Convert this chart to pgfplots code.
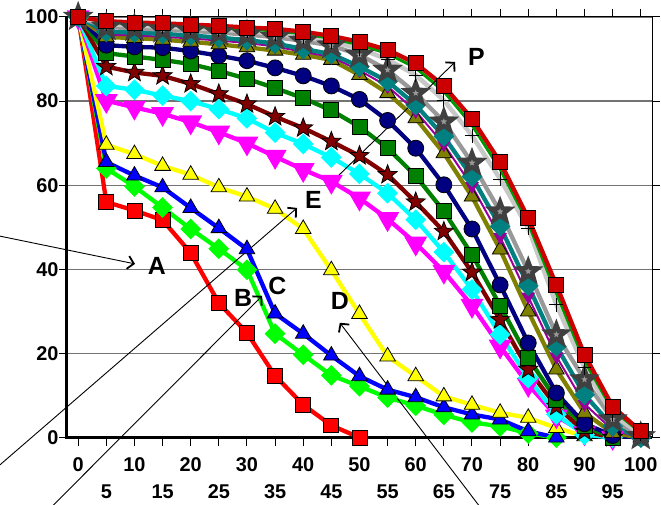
\documentclass[border=0pt]{standalone}
\usepackage{fontspec}
\setmainfont{Liberation Sans}
\usepackage{pgfplots}
\pgfplotsset{compat=1.18}
\usetikzlibrary{arrows.meta}
\definecolor{cRed}{HTML}{FF0000}
\definecolor{cLime}{HTML}{00FF00}
\definecolor{cBlue}{HTML}{0000FF}
\definecolor{cYellow}{HTML}{FFFF00}
\definecolor{cMag}{HTML}{FF00FF}
\definecolor{cCyan}{HTML}{00FFFF}
\definecolor{cDRed}{HTML}{800000}
\definecolor{cGreen}{HTML}{008000}
\definecolor{cNavy}{HTML}{000080}
\definecolor{cOlive}{HTML}{808000}
\definecolor{cPurple}{HTML}{990099}
\definecolor{cTeal}{HTML}{008080}
\definecolor{cGray}{HTML}{999999}
\definecolor{cLGray}{HTML}{C8C8C8}
\definecolor{cGreen2}{HTML}{009900}
\definecolor{cTop}{HTML}{CC0000}
\pgfdeclareplotmark{fstar}{%
  \pgfpathmoveto{\pgfqpoint{0pt}{\pgfplotmarksize}}%
  \pgfpathlineto{\pgfqpoint{-0.247\pgfplotmarksize}{0.340\pgfplotmarksize}}%
  \pgfpathlineto{\pgfqpoint{-0.951\pgfplotmarksize}{0.309\pgfplotmarksize}}%
  \pgfpathlineto{\pgfqpoint{-0.399\pgfplotmarksize}{-0.130\pgfplotmarksize}}%
  \pgfpathlineto{\pgfqpoint{-0.588\pgfplotmarksize}{-0.809\pgfplotmarksize}}%
  \pgfpathlineto{\pgfqpoint{0pt}{-0.420\pgfplotmarksize}}%
  \pgfpathlineto{\pgfqpoint{0.588\pgfplotmarksize}{-0.809\pgfplotmarksize}}%
  \pgfpathlineto{\pgfqpoint{0.399\pgfplotmarksize}{-0.130\pgfplotmarksize}}%
  \pgfpathlineto{\pgfqpoint{0.951\pgfplotmarksize}{0.309\pgfplotmarksize}}%
  \pgfpathlineto{\pgfqpoint{0.247\pgfplotmarksize}{0.340\pgfplotmarksize}}%
  \pgfpathclose
  \pgfusepathqfillstroke}
\pgfplotsset{
  ser/.style n args={3}{color=#1, line width=4.3bp, mark=#2, mark size=#3,
     mark options={solid, fill=#1, draw=black, line width=0.8bp}},
}
\begin{document}
\begin{tikzpicture}
\begin{axis}[
  at={(0,0)}, anchor=south west,
  scale only axis, width=585.6bp, height=421bp,
  xmin=-2, xmax=102, ymin=0, ymax=100,
  clip=false,
  axis line style={line width=1bp, black},
  xtick={0,10,...,100},
  extra x ticks={5,15,...,95},
  extra x tick style={xticklabel style={yshift=-28bp}},
  ytick={0,20,...,100},
  ymajorgrids,
  major grid style={line width=1.3bp, color=black!55},
  tick align=outside,
  major tick length=8bp,
  tick style={black, line width=1bp},
  tick label style={font=\fontsize{20}{20}\selectfont\bfseries},
  /pgf/number format/assume math mode=true,
  xticklabel style={yshift=-8bp},
  yticklabel style={xshift=3bp},
]
\coordinate (sw) at (rel axis cs:0,0);
\coordinate (ne) at (rel axis cs:1,1);
\draw[line width=3bp, black] (rel axis cs:0,1) -- (rel axis cs:0,0) -- (rel axis cs:1,0);

\addplot[ser={cRed}{square*}{7.5bp}] coordinates {(0,100)(5,56)(10,54)(15,51.7)(20,43.9)(25,32)(30,24.9)(35,14.7)(40,7.8)(45,2.9)(50,0)};
\addplot[ser={cLime}{square*}{5.2bp}, mark options={rotate=45}] coordinates {(0,100)(5,64)(10,59.7)(15,54.7)(20,49.6)(25,44.9)(30,39.9)(35,24.7)(40,19.7)(45,14.8)(50,12.2)(55,9.5)(60,7.6)(65,5.4)(70,3.6)(75,2.7)(80,1)(85,0)};
\addplot[ser={cBlue}{triangle*}{9bp}] coordinates {(0,100)(5,65.5)(10,62.3)(15,59.5)(20,54.6)(25,49.8)(30,44.8)(35,29.5)(40,24.7)(45,19.5)(50,14.6)(55,11.4)(60,9.6)(65,7.2)(70,5.5)(75,4.3)(80,1.5)(85,0)};
\addplot[ser={cYellow}{triangle*}{9bp}] coordinates {(0,100)(5,69.6)(10,67.4)(15,64.6)(20,62.5)(25,59.5)(30,57.3)(35,54.4)(40,49.6)(45,39.8)(50,29.4)(55,19.3)(60,14.6)(65,9.8)(70,7.8)(75,5.9)(80,4.7)(85,2.3)(90,0.3)};
\addplot[ser={cMag}{triangle*}{9bp}, mark options={rotate=180}] coordinates {(0,100)(5,80.1)(10,78.5)(15,77)(20,75)(25,72.6)(30,70)(35,66.8)(40,63.7)(45,60.9)(50,56.9)(55,52)(60,46.2)(65,39.5)(70,31.4)(75,21.7)(80,12.6)(85,5.1)(90,1.1)(95,0)};
\addplot[ser={cCyan}{square*}{5.2bp}, mark options={rotate=45}] coordinates {(0,100)(5,83.6)(10,82.7)(15,81.3)(20,80)(25,78.1)(30,75.9)(35,72.5)(40,69.8)(45,66.6)(50,62.7)(55,58.1)(60,51.8)(65,44.1)(70,35.2)(75,24.5)(80,14.2)(85,5.5)(90,0.7)(95,0)};
\addplot[ser={cDRed}{fstar}{10bp}] coordinates {(0,100)(5,88.2)(10,86.8)(15,86)(20,84.1)(25,81.7)(30,79.3)(35,76.3)(40,73.6)(45,70.4)(50,67)(55,62.5)(60,56)(65,49)(70,39.3)(75,28)(80,16.2)(85,7.4)(90,1.5)(95,0)};
\addplot[ser={cGreen}{square*}{7.5bp}] coordinates {(0,100)(5,91.4)(10,90.6)(15,89.8)(20,88.8)(25,87.2)(30,85.3)(35,83.1)(40,80.7)(45,77.8)(50,73.9)(55,68.8)(60,62.2)(65,53.8)(70,43.5)(75,31.4)(80,18.9)(85,9)(90,2.7)(95,0)};
\addplot[ser={cNavy}{*}{8bp}] coordinates {(0,100)(5,93.3)(10,92.9)(15,92.7)(20,91.9)(25,90.8)(30,89.6)(35,87.9)(40,86)(45,83.6)(50,80.4)(55,75.4)(60,68.8)(65,60.1)(70,49.6)(75,36.3)(80,22.5)(85,10.6)(90,3.3)(95,0.5)(100,0)};
\addplot[ser={cOlive}{triangle*}{9bp}] coordinates {(0,100)(5,95.2)(10,95)(15,94.6)(20,94.1)(25,93.5)(30,92.8)(35,92)(40,91)(45,89.8)(50,86.2)(55,81.9)(60,75.9)(65,67.6)(70,57.3)(75,44.7)(80,30)(85,16.2)(90,5.9)(95,1.1)(100,0)};
\addplot[ser={cPurple}{triangle*}{6bp}, line width=2bp, mark options={rotate=180}] coordinates {(0,100)(5,95.8)(10,95.6)(15,95.3)(20,94.9)(25,94.4)(30,93.8)(35,93)(40,91.7)(45,90.5)(50,87.3)(55,83.5)(60,77.6)(65,69.7)(70,59.8)(75,47.7)(80,33.5)(85,19.3)(90,8)(95,1.8)(100,0)};
\addplot[ser={cTeal}{square*}{5.2bp}, mark options={rotate=45}] coordinates {(0,100)(5,96.5)(10,96.3)(15,96)(20,95.6)(25,95.1)(30,94.5)(35,93.7)(40,92.4)(45,91.2)(50,88.2)(55,84.7)(60,79.1)(65,71.6)(70,62)(75,50.2)(80,36.1)(85,21.7)(90,10.2)(95,2.7)(100,0)};
\addplot[ser={cGray}{fstar}{10bp}, mark options={draw=black!75}] coordinates {(0,100)(5,97.6)(10,97.3)(15,97)(20,96.7)(25,96.3)(30,95.8)(35,95.2)(40,94.3)(45,93.2)(50,91)(55,87.4)(60,81.9)(65,75.1)(70,65.3)(75,53.7)(80,39.5)(85,24.5)(90,13.8)(95,4.3)(100,0.3)};
\addplot[color=cLGray, line width=4.5bp, mark=+, mark size=7bp, mark options={solid, draw=black, line width=0.8bp}] coordinates {(0,100)(5,98.3)(10,98)(15,97.7)(20,97.4)(25,97)(30,96.6)(35,96)(40,95.2)(45,94.1)(50,92.5)(55,89.9)(60,86.2)(65,80.2)(70,71.8)(75,61.5)(80,49.8)(85,31.6)(90,16.6)(95,5.5)(100,0.8)};
\addplot[color=cGreen2, line width=3bp] coordinates {(0,100)(5,98.7)(10,98.4)(15,98.1)(20,97.8)(25,97.5)(30,97.1)(35,96.7)(40,96)(45,94.9)(50,93.4)(55,91.3)(60,87.9)(65,82.3)(70,74.3)(75,63.8)(80,51)(85,34.3)(90,18.2)(95,6.6)(100,1.2)};
\addplot[ser={cTop}{square*}{7.5bp}] coordinates {(0,100)(5,99)(10,98.7)(15,98.5)(20,98.2)(25,97.9)(30,97.5)(35,97.2)(40,96.5)(45,95.5)(50,94.1)(55,92.2)(60,89)(65,83.6)(70,75.8)(75,65.5)(80,52.2)(85,36.3)(90,19.7)(95,7.4)(100,1.5)};

% annotations
\tikzset{ann/.style={line width=0.9bp, black, -{Straight Barb[length=6bp,width=13bp,line width=1.8bp]}},
         lab/.style={font=\fontsize{25}{25}\selectfont\bfseries, inner sep=0pt}}
\draw[ann] (axis cs:-15,48.2) -- (axis cs:10.1,41.3);
\node[lab] at (axis cs:14,40.9) {A};
\draw[ann] (axis cs:-16,-8.9) -- (axis cs:38.9,54.6);
\node[lab] at (axis cs:41.8,56.5) {E};
\draw[ann] (axis cs:-5.5,-17.5) -- (axis cs:32.7,33.7);
\node[lab] at (axis cs:29.3,33.3) {B};
\node[lab] at (axis cs:35.4,36) {C};
\draw[ann] (axis cs:72,-17.5) -- (axis cs:46.5,27.3);
\node[lab] at (axis cs:46.5,32.5) {D};
\draw[ann] (axis cs:44.2,59.6) -- (axis cs:67,89.3);
\node[lab] at (axis cs:70.8,90.6) {P};
\end{axis}
\pgfresetboundingbox
\path[use as bounding box] ([shift={(-67bp,-67bp)}]sw) rectangle ([shift={(9bp,17bp)}]ne);
\end{tikzpicture}
\end{document}
